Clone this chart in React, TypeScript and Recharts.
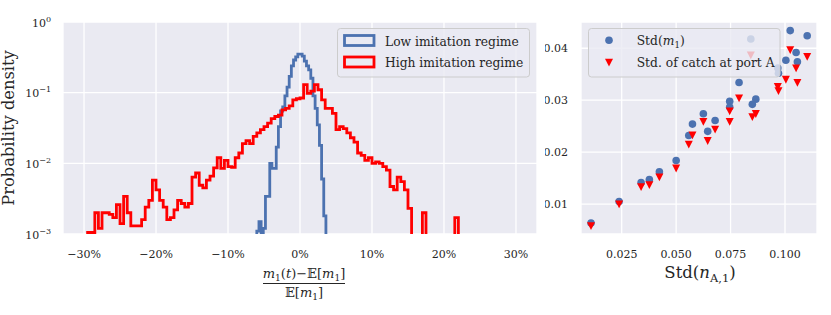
import { ComposedChart, Line, ScatterChart, Scatter, XAxis, YAxis, CartesianGrid } from "recharts";

const FONT = "'DejaVu Serif', serif";
const INK = "#262626";
const BLUE = "#4C72B0";
const RED = "#FF0000";
const BG = "#EAEAF2";

// left panel: relative deviation of m1 (in %), probability density on a log axis
const lowStart = -6.0;
const lowWidth = 0.3;
const lowDensity = [
  0.0011, 0.0015, 0.0008, 0.0012, 0.0034, 0.0034, 0.01, 0.0085, 0.0085, 0.017,
  0.033, 0.055, 0.063, 0.09, 0.12, 0.17, 0.24, 0.29, 0.32, 0.35,
  0.35, 0.33, 0.28, 0.24, 0.21, 0.16, 0.09, 0.06, 0.035, 0.018,
  0.006, 0.0018,
];

const highStart = -29.5;
const highWidth = 0.5;
const highDensity = [
  0.00105, 0.00105, 0.002, 0.0012, 0.002, 0.002, 0.0019, 0.0017, 0.0026, 0.0014,
  0.0034, 0.002, 0.0013, 0.0013, 0.0013, 0.0016, 0.0024, 0.003, 0.0058, 0.0042,
  0.003, 0.0024, 0.0016, 0.0017, 0.0022, 0.003, 0.0027, 0.0024, 0.0027, 0.0064,
  0.0073, 0.0049, 0.0045, 0.0058, 0.0066, 0.0086, 0.012, 0.0085, 0.011, 0.009,
  0.0088, 0.012, 0.014, 0.019, 0.021, 0.019, 0.024, 0.027, 0.03, 0.033,
  0.037, 0.043, 0.046, 0.048, 0.057, 0.06, 0.065, 0.079, 0.082, 0.084,
  0.13, 0.098, 0.105, 0.13, 0.11, 0.079, 0.06, 0.06, 0.051, 0.03,
  0.033, 0.031, 0.027, 0.023, 0.02, 0.014, 0.013, 0.011, 0.012, 0.01,
  0.0105, 0.01, 0.009, 0.008, 0.0047, 0.0042, 0.0064, 0.0055, 0.0042, 0.0023,
  0, 0, 0, 0.002, 0, 0, 0, 0, 0, 0,
  0, 0, 0.0017,
];

const pctTicks = [-30, -20, -10, 0, 10, 20, 30];
const densityTicks = [0.001, 0.01, 0.1, 1];

// right panel: Std(n_A,1) against Std(m1) and std of catch at port A
const stdN = [
  0.0109, 0.0238, 0.0339, 0.0377, 0.0423, 0.05, 0.0558, 0.0575, 0.0625, 0.0645,
  0.0679, 0.0746, 0.0746, 0.0789, 0.085, 0.0866, 0.0843, 0.0967, 0.097, 0.1004,
  0.1024, 0.1051, 0.1057, 0.1102,
];
const stdM1 = [
  0.00635, 0.0105, 0.01415, 0.0147, 0.0162, 0.0184, 0.0232, 0.0254, 0.0274, 0.024,
  0.0261, 0.0298, 0.0287, 0.0334, 0.0292, 0.0302, 0.0418, 0.0362, 0.0352, 0.0377,
  0.0434, 0.0392, 0.0374, 0.0424,
];
const stdCatch = [
  0.0058, 0.01, 0.0133, 0.0137, 0.0152, 0.0169, 0.0215, 0.0233, 0.0259, 0.0222,
  0.0244, 0.0279, 0.0259, 0.0304, 0.0268, 0.0274, 0.0387, 0.0326, 0.0318, 0.034,
  0.0397, 0.0362, 0.0334, 0.0384,
];
const stdNTicks = [0.025, 0.05, 0.075, 0.1];
const stdTicks = [0.01, 0.02, 0.03, 0.04];

// empty bins are pushed far below the log axis and clipped away
const FLOOR = 1e-6;

function stepOutline(start: number, width: number, vals: number[]) {
  const pts = [{ x: start, y: FLOOR }];
  vals.forEach((v, i) => pts.push({ x: start + i * width, y: v > 0 ? v : FLOOR }));
  const end = start + vals.length * width;
  const last = vals[vals.length - 1];
  pts.push({ x: end, y: last > 0 ? last : FLOOR });
  pts.push({ x: end, y: FLOOR });
  return pts;
}

const lowData = stepOutline(lowStart, lowWidth, lowDensity);
const highData = stepOutline(highStart, highWidth, highDensity);
const m1Data = stdN.map((x, i) => ({ x, y: stdM1[i] }));
const catchData = stdN.map((x, i) => ({ x, y: stdCatch[i] }));

const txt = { fontFamily: FONT, fill: INK };

const PctTick = ({ x, y, payload }: any) => (
  <text x={x} y={y + 23.5} textAnchor="middle" fontSize={11} {...txt}>
    {(payload.value < 0 ? "\u2212" : "") + Math.abs(payload.value) + "%"}
  </text>
);

const PowTick = ({ x, y, payload }: any) => {
  const e = Math.round(Math.log10(payload.value));
  return (
    <text x={x} y={y + 4.5} textAnchor="end" fontSize={11} {...txt}>
      10
      <tspan dy={-5} fontSize={8}>{e < 0 ? "\u2212" + -e : String(e)}</tspan>
    </text>
  );
};

const DecTick = (digits: number, dyBase: number, anchor: string) => ({ x, y, payload }: any) => (
  <text x={x} y={y + dyBase} textAnchor={anchor as any} fontSize={11} {...txt}>
    {payload.value.toFixed(digits)}
  </text>
);

const Circle = (props: any) => <circle cx={props.cx} cy={props.cy} r={3.8} fill={BLUE} />;
const Tri = (props: any) => {
  const { cx, cy } = props;
  return <path d={`M${cx - 4},${cy - 3.6}L${cx + 4},${cy - 3.6}L${cx},${cy + 4.2}Z`} fill={RED} />;
};

const FracLabel = ({ viewBox }: any) => {
  const cx = viewBox.x + viewBox.width / 2 + 4;
  const y = viewBox.y;
  return (
    <g>
      <text x={cx} y={y + 44} textAnchor="middle" fontSize={13} {...txt}>
        <tspan fontStyle="italic">m</tspan>
        <tspan fontSize={9} dy={3}>1</tspan>
        <tspan dy={-3}>(</tspan>
        <tspan fontStyle="italic">t</tspan>
        <tspan>){"\u2212"}{"\u{1D53C}"}[</tspan>
        <tspan fontStyle="italic">m</tspan>
        <tspan fontSize={9} dy={3}>1</tspan>
        <tspan dy={-3}>]</tspan>
      </text>
      <line x1={cx - 41} x2={cx + 41} y1={y + 49.5} y2={y + 49.5} stroke={INK} strokeWidth={1} />
      <text x={cx} y={y + 62.7} textAnchor="middle" fontSize={13} {...txt}>
        <tspan>{"\u{1D53C}"}[</tspan>
        <tspan fontStyle="italic">m</tspan>
        <tspan fontSize={9} dy={3}>1</tspan>
        <tspan dy={-3}>]</tspan>
      </text>
    </g>
  );
};

const DensityLabel = ({ viewBox }: any) => {
  const x = viewBox.x + 4;
  const y = viewBox.y + viewBox.height / 2;
  return (
    <text x={x} y={y} transform={`rotate(-90, ${x}, ${y})`} textAnchor="middle" fontSize={16.3} {...txt}>
      Probability density
    </text>
  );
};

const StdNLabel = ({ viewBox }: any) => {
  const cx = viewBox.x + viewBox.width / 2 + 1;
  return (
    <text x={cx} y={viewBox.y + 44.3} textAnchor="middle" fontSize={16.5} {...txt}>
      Std(
      <tspan fontStyle="italic">n</tspan>
      <tspan fontSize={11.5} dy={4}>A,1</tspan>
      <tspan dy={-4}>)</tspan>
    </text>
  );
};

const Legends = () => (
  <svg width={831} height={315} style={{ position: "absolute", left: 0, top: 0, pointerEvents: "none" }}>
    <rect x={337.5} y={28.5} width={192} height={48.5} rx={3} fill={BG} fillOpacity={0.8} stroke="#CCCCCC" strokeWidth={1} />
    <rect x={344.5} y={35.5} width={29.5} height={10} fill="none" stroke={BLUE} strokeWidth={2.8} />
    <rect x={344.5} y={57} width={29.5} height={10} fill="none" stroke={RED} strokeWidth={2.8} />
    <text x={385} y={45.5} fontSize={12.3} {...txt}>Low imitation regime</text>
    <text x={385} y={67} fontSize={12.3} {...txt}>High imitation regime</text>

    <rect x={588.5} y={28.5} width={191.5} height={48.5} rx={3} fill={BG} fillOpacity={0.8} stroke="#CCCCCC" strokeWidth={1} />
    <Circle cx={609} cy={40.3} />
    <Tri cx={609} cy={62.3} />
    <text x={636.7} y={45} fontSize={12.3} {...txt}>
      Std(<tspan fontStyle="italic">m</tspan>
      <tspan fontSize={8.6} dy={2.5}>1</tspan>
      <tspan dy={-2.5}>)</tspan>
    </text>
    <text x={636.7} y={67} fontSize={12.3} {...txt}>Std. of catch at port A</text>
  </svg>
);

export default function App() {
  return (
    <div style={{ position: "absolute", left: 0, top: 0, width: 831, height: 315, background: "#fff" }}>
      <div style={{ position: "absolute", left: 0, top: 0 }}>
        <ComposedChart width={545} height={315} margin={{ top: 22, right: 8, bottom: 51, left: 10 }}>
          <CartesianGrid fill={BG} fillOpacity={1} stroke="#fff" strokeWidth={1.3} />
          <XAxis
            type="number"
            dataKey="x"
            domain={[-32.92, 32.92]}
            ticks={pctTicks}
            allowDataOverflow
            axisLine={false}
            tickLine={false}
            tickSize={0}
            tickMargin={0}
            height={30}
            tick={<PctTick />}
            label={{ content: <FracLabel /> }}
          />
          <YAxis
            type="number"
            scale="log"
            domain={[0.001, 1]}
            ticks={densityTicks}
            allowDataOverflow
            axisLine={false}
            tickLine={false}
            tickSize={0}
            tickMargin={12}
            width={53}
            tick={<PowTick />}
            label={{ content: <DensityLabel /> }}
          />
          <Line data={lowData} dataKey="y" type="stepAfter" stroke={BLUE} strokeWidth={2.8} strokeLinejoin="miter" dot={false} activeDot={false} isAnimationActive={false} />
          <Line data={highData} dataKey="y" type="stepAfter" stroke={RED} strokeWidth={2.8} strokeLinejoin="miter" dot={false} activeDot={false} isAnimationActive={false} />
        </ComposedChart>
      </div>
      <div style={{ position: "absolute", left: 545, top: 0 }}>
        <ScatterChart width={286} height={315} margin={{ top: 22, right: 14, bottom: 51, left: 0 }}>
          <CartesianGrid fill={BG} fillOpacity={1} stroke="#fff" strokeWidth={1.3} />
          <XAxis
            type="number"
            dataKey="x"
            domain={[0.0063, 0.1147]}
            ticks={stdNTicks}
            allowDataOverflow
            axisLine={false}
            tickLine={false}
            tickSize={0}
            tickMargin={0}
            height={30}
            tick={DecTick(3, 23.5, "middle")}
            label={{ content: <StdNLabel /> }}
          />
          <YAxis
            type="number"
            dataKey="y"
            domain={[0.00423, 0.04506]}
            ticks={stdTicks}
            allowDataOverflow
            axisLine={false}
            tickLine={false}
            tickSize={0}
            tickMargin={13}
            width={36}
            tick={DecTick(2, 4, "end")}
          />
          <Scatter data={m1Data} shape={<Circle />} isAnimationActive={false} />
          <Scatter data={catchData} shape={<Tri />} isAnimationActive={false} />
        </ScatterChart>
      </div>
      <Legends />
    </div>
  );
}
